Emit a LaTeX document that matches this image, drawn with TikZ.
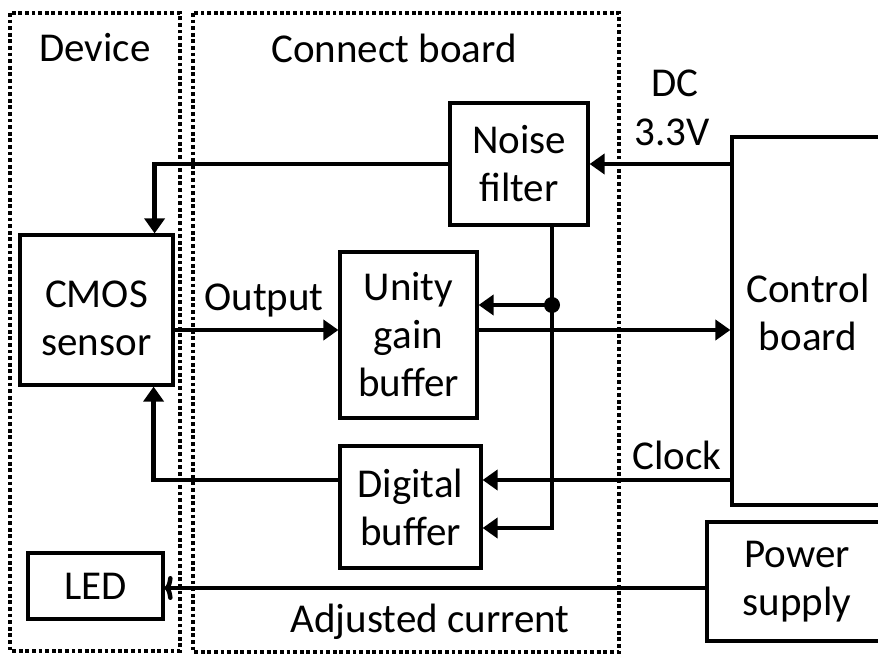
\documentclass[tikz,border=0pt]{standalone}
\usepackage{fontspec}
\setmainfont{Carlito}
\usetikzlibrary{arrows.meta,calc}
\begin{document}
\begin{tikzpicture}[x=1pt,y=-1pt,
  font=\fontsize{41}{48}\selectfont,
  blk/.style={draw,line width=3.2pt,inner sep=0pt,align=center},
  conn/.style={line width=4.5pt},
  arr/.style={conn,-{Triangle[length=15pt,width=20pt]}},
  dotbox/.style={line width=3.8pt,dash pattern=on 3.8pt off 2.8pt},
  lbl/.style={inner sep=0pt,align=center}]
\useasboundingbox (0,0) rectangle (878,655);
% region boxes
\draw[dotbox] (10,13) rectangle (180,651);
\draw[dotbox] (193,13) rectangle (619,652);
\node[lbl] (devlbl) at (95,48) {Device};
\node[lbl] (conlbl) at (394,48) {Connect board};
% blocks
\node[blk,minimum width=138pt,minimum height=122pt] (noise) at (519,164) {Noise\\filter};
\node[blk,minimum width=137pt,minimum height=166pt] (unity) at (408.5,335) {Unity\\gain\\buffer};
\node[blk,minimum width=141pt,minimum height=122pt] (digital) at (410.5,507) {Digital\\buffer};
\node[blk,minimum width=153pt,minimum height=150pt] (cmos) at (96.5,310) {};
\node[lbl] (cmostxt) at (96.5,318) {CMOS\\sensor};
\node[blk,minimum width=135pt,minimum height=66pt] (led) at (95.5,586) {LED};
\node[blk,minimum width=152pt,minimum height=368pt] (control) at (808,321) {};
\node[lbl] (controltxt) at (808,312) {Control\\board};
\node[blk,minimum width=180pt,minimum height=119pt] (power) at (797,581.5) {Power\\supply};
% labels
\node[lbl] (dc) at (675,83) {DC};
\node[lbl] (v33) at (672,132) {3.3V};
\node[lbl] (outlbl) at (264,300) {Output};
\node[lbl] (clklbl) at (677,455) {Clock};
\node[lbl] (adjlbl) at (430,622) {Adjusted current};
% coordinates
\coordinate (nfb) at (552,225);
\coordinate (j) at (552,305);
\coordinate (b) at (552,528);
\coordinate (clk) at (732,480);
\coordinate (pw) at (707,588);
\coordinate (outy) at (0,330);
% connectors
\draw[arr] (noise.west) -| ([xshift=-20pt]cmos.north east);
\draw[arr] (control.west |- noise.east) -- (noise.east);
\draw[arr] (nfb) -- (b) -- (digital.east |- b);
\draw[arr] (j) -- (unity.east |- j);
\fill (j) circle (8pt);
\draw[line width=3.8pt,-{Triangle[length=15pt,width=20pt]}] (cmos.east |- outy) -- (unity.west |- outy);
\draw[arr] (unity.east |- outy) -- (control.west |- outy);
\draw[arr] (clk) -- (digital.east |- clk);
\draw[arr] (digital.west |- clk) -| ([xshift=-21pt]cmos.south east);
\draw[conn,-{To[length=8pt,width=24pt]}] (pw) -- (led.east |- pw);
\end{tikzpicture}
\end{document}
